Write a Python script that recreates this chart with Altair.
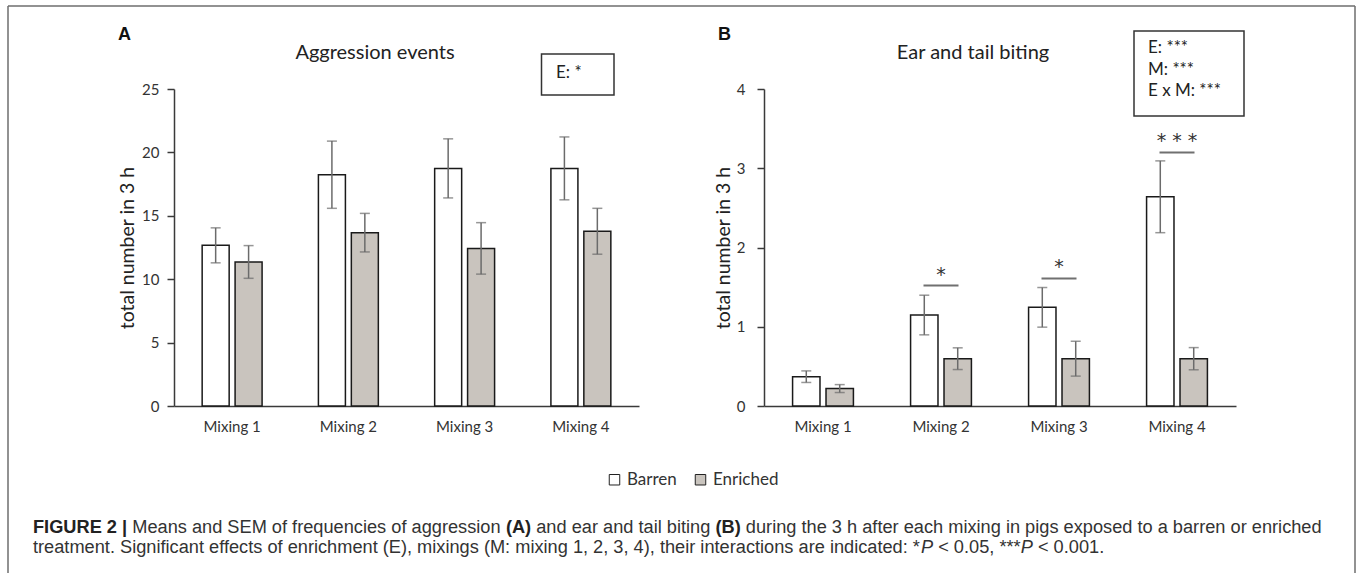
import altair as alt
import pandas as pd

# ---------------- data ----------------
mixings = ["Mixing 1", "Mixing 2", "Mixing 3", "Mixing 4"]
treatments = ["Barren", "Enriched"]

agg_barren_mean = [12.67, 18.24, 18.74, 18.74]
agg_barren_sem = [1.38, 2.65, 2.33, 2.48]
agg_enriched_mean = [11.36, 13.67, 12.43, 13.78]
agg_enriched_sem = [1.29, 1.52, 2.03, 1.81]

bite_barren_mean = [0.37, 1.148, 1.245, 2.64]
bite_barren_sem = [0.073, 0.25, 0.25, 0.453]
bite_enriched_mean = [0.22, 0.597, 0.597, 0.597]
bite_enriched_sem = [0.05, 0.137, 0.22, 0.14]

agg_ticks = [0, 5, 10, 15, 20, 25]
bite_ticks = [0, 1, 2, 3, 4]

sig_mixings = ["Mixing 2", "Mixing 3", "Mixing 4"]
sig_levels = [1.52, 1.61, 3.2]
sig_labels = ["*", "*", "* * *"]

panel_titles = ["Aggression events", "Ear and tail biting"]
panel_letters = ["A", "B"]
y_title = "total number in 3 h"
stats_A = ["E: *"]
stats_B = ["E: ***", "M: ***", "E x M: ***"]

# caption segments: (text, weight, style)
caption_line1 = [
    ("FIGURE 2 | ", "bold", "normal"),
    ("Means and SEM of frequencies of aggression ", "normal", "normal"),
    ("(A)", "bold", "normal"),
    (" and ear and tail biting ", "normal", "normal"),
    ("(B)", "bold", "normal"),
    (" during the 3 h after each mixing in pigs exposed to a barren or enriched", "normal", "normal"),
]
caption_line2 = [
    ("treatment. Significant effects of enrichment (E), mixings (M: mixing 1, 2, 3, 4), their interactions are indicated: *", "normal", "normal"),
    ("P", "normal", "italic"),
    (" < 0.05, ***", "normal", "normal"),
    ("P", "normal", "italic"),
    (" < 0.001.", "normal", "normal"),
]

# ---------------- styling ----------------
W, H = 1357, 573
TOP, BOTTOM = 89, 406
FONT = "Lato"
AX = "#3a3a3a"
EB = "#6b6b6b"
FILLS = ["#ffffff", "#c9c4be"]


def make_df(bm, bs, em, es):
    rows = []
    for i, m in enumerate(mixings):
        for t, mean, sem in (("Barren", bm[i], bs[i]), ("Enriched", em[i], es[i])):
            rows.append({"mix": m, "treat": t, "mean": mean, "lo": mean - sem, "hi": mean + sem})
    return pd.DataFrame(rows)


df_agg = make_df(agg_barren_mean, agg_barren_sem, agg_enriched_mean, agg_enriched_sem)
df_bite = make_df(bite_barren_mean, bite_barren_sem, bite_enriched_mean, bite_enriched_sem)
df_sig = pd.DataFrame({"mix": sig_mixings, "level": sig_levels, "label": sig_labels})


def panel(df, x_range, ymax, yticks, title_dx, label_pad, show_legend, sig=None):
    xs = alt.Scale(domain=mixings, range=x_range, paddingInner=0, paddingOuter=0)
    xaxis = alt.Axis(orient="bottom", offset=BOTTOM - H, ticks=False, tickSize=0,
                     labelPadding=13, labelAngle=0, labelFont=FONT, labelFontSize=15,
                     labelColor="#333", domainColor=AX, domainWidth=1.5, title=None)
    X = alt.X("mix:N", scale=xs, axis=xaxis)
    XO = alt.XOffset("treat:N", scale=alt.Scale(domain=treatments, paddingInner=0.18, paddingOuter=0.855))
    ys = alt.Scale(domain=[0, ymax], range=[BOTTOM, TOP], nice=False, zero=True)
    yaxis = alt.Axis(orient="left", offset=-x_range[0], values=yticks, tickSize=7, tickWidth=1.5,
                     tickColor=AX, domainColor=AX, domainWidth=1.5, grid=False,
                     labelFont=FONT, labelFontSize=15, labelColor="#333", labelPadding=label_pad,
                     title=y_title, titleFont=FONT, titleFontSize=19.5, titleFontWeight="normal",
                     titleColor="#222", titleX=title_dx, titleY=(TOP + BOTTOM) / 2,
                     titleAngle=270, titleAlign="center", titleBaseline="middle")

    if show_legend:
        legend = alt.Legend(orient="none", legendX=606, legendY=471, direction="horizontal",
                            title=None, symbolType="square", symbolSize=110,
                            symbolStrokeColor="#222", symbolStrokeWidth=1, labelFont=FONT,
                            labelFontSize=17, labelColor="#333", columnPadding=15,
                            labelOffset=4, padding=0)
    else:
        legend = None
    fill = alt.Fill("treat:N", scale=alt.Scale(domain=treatments, range=FILLS), legend=legend)

    bars = alt.Chart(df).mark_bar(stroke="#1a1a1a", strokeWidth=1.5).encode(
        x=X, xOffset=XO, y=alt.Y("mean:Q", scale=ys, axis=yaxis), fill=fill)
    err = alt.Chart(df).mark_rule(color=EB, strokeWidth=1.5).encode(
        x=X, xOffset=XO, y=alt.Y("lo:Q", scale=ys, axis=yaxis), y2="hi:Q")
    cap_lo = alt.Chart(df).mark_tick(color=EB, thickness=1.5, size=10).encode(
        x=X, xOffset=XO, y=alt.Y("lo:Q", scale=ys, axis=yaxis))
    cap_hi = alt.Chart(df).mark_tick(color=EB, thickness=1.5, size=10).encode(
        x=X, xOffset=XO, y=alt.Y("hi:Q", scale=ys, axis=yaxis))
    layers = [bars, err, cap_lo, cap_hi]
    if sig is not None:
        line = alt.Chart(sig).mark_tick(color="#333", thickness=2, size=35).encode(
            x=X, y=alt.Y("level:Q", scale=ys, axis=yaxis))
        stars = alt.Chart(sig).mark_text(font="DejaVu Sans", fontSize=19, color="#333",
                                         baseline="bottom", dy=-1).encode(
            x=X, y=alt.Y("level:Q", scale=ys, axis=yaxis), text="label:N")
        layers += [line, stars]
    return alt.layer(*layers)


panelA = panel(df_agg, [174, 639], 25, agg_ticks, -47, 8, True)
panelB = panel(df_bite, [764, 1236], 4, bite_ticks, -41, 12, False, df_sig)

one = pd.DataFrame({"k": [0]})


def text_at(txt, x, y, size, font=FONT, weight="normal", align="left", color="#222", style="normal"):
    return alt.Chart(one).mark_text(text=txt, font=font, fontSize=size, fontWeight=weight,
                                    fontStyle=style, align=align, baseline="middle",
                                    color=color).encode(x=alt.value(x), y=alt.value(y))


def box(x1, x2, y1, y2):
    return alt.Chart(one).mark_rect(fill="white", stroke="#333", strokeWidth=1.5).encode(
        x=alt.value(x1), x2=alt.value(x2), y=alt.value(y1), y2=alt.value(y2))


def rule(**kw):
    enc = {k: alt.value(v) for k, v in kw.items()}
    return alt.Chart(one).mark_rule(color="#6e6e6e", strokeWidth=1.5).encode(**enc)


frame = [rule(x=8, x2=1355, y=6), rule(x=8, y=6, y2=W), rule(x=1355, y=6, y2=W)]

decor = [
    text_at(panel_letters[0], 118, 35, 18, font="Liberation Sans", weight="bold", color="#111"),
    text_at(panel_letters[1], 718, 35, 18, font="Liberation Sans", weight="bold", color="#111"),
    text_at(panel_titles[0], 375, 53, 20, align="center"),
    text_at(panel_titles[1], 973, 53, 20, align="center"),
    box(541.5, 614, 54, 95),
    text_at(stats_A[0], 556, 73, 17),
    box(1134, 1244, 31, 116),
    text_at(stats_B[0], 1148, 48, 17),
    text_at(stats_B[1], 1148, 69.5, 17),
    text_at(stats_B[2], 1148, 91, 17),
]

# ---------- caption layout (Arial / Liberation Sans advance widths, per 1000 em) ----------
REG = {' ': 278, '(': 333, ')': 333, '*': 389, ',': 278, '.': 278, ':': 278, '<': 584, '|': 260}
REG.update({d: 556 for d in "0123456789"})
REG.update(dict(zip("ABCDEFGHIJKLMNOPQRSTUVWXYZ",
                    [667, 667, 722, 722, 667, 611, 778, 722, 278, 500, 667, 556, 833, 722, 778, 667,
                     778, 722, 667, 611, 722, 667, 944, 667, 667, 611])))
REG.update(dict(zip("abcdefghijklmnopqrstuvwxyz",
                    [556, 556, 500, 556, 556, 278, 556, 556, 222, 222, 500, 222, 833, 556, 556, 556,
                     556, 333, 500, 278, 556, 500, 722, 500, 500, 500])))
BOLD = dict(REG)
BOLD.update({'|': 280, 'A': 722, 'B': 722, 'E': 667, 'F': 611, 'G': 778, 'I': 278, 'R': 722, 'U': 722})


def em_width(s, weight):
    table = BOLD if weight == "bold" else REG
    return sum(table.get(c, 556) for c in s) / 1000.0


CAP_X0, CAP_X1 = 33, 1322
cap_size = (CAP_X1 - CAP_X0) / sum(em_width(t, w) for t, w, _ in caption_line1)

caption = []
for segs, yy in ((caption_line1, 528), (caption_line2, 548)):
    xx = CAP_X0
    for t, w, st in segs:
        lead = len(t) - len(t.lstrip(" "))
        shown = t.strip(" ")
        caption.append(text_at(shown, xx + em_width(" " * lead, w) * cap_size, yy, cap_size,
                               font="Liberation Sans", weight=w, style=st,
                               color="#222" if w == "bold" else "#333"))
        xx += em_width(t, w) * cap_size

chart = alt.layer(*frame, panelA, panelB, *decor, *caption).resolve_scale(
    x="independent", y="independent", xOffset="independent"
).properties(
    width=W, height=H, autosize=alt.AutoSizeParams(type="none"), padding=0, background="white"
).configure_view(strokeWidth=0)

chart.save("out.html", embed_options={"renderer": "svg", "actions": False})
